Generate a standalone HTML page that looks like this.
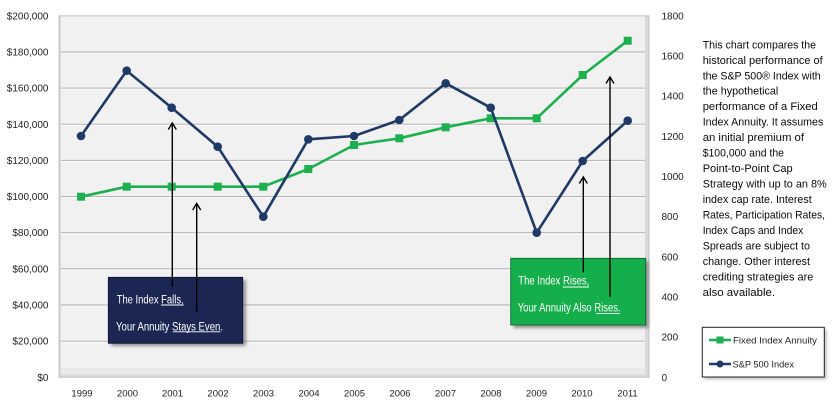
<!DOCTYPE html>
<html><head><meta charset="utf-8"><style>
html,body{margin:0;padding:0;background:#fff;}
svg{display:block;}
text{font-family:"Liberation Sans",Arial,sans-serif;}
</style></head><body>
<svg width="840" height="414" viewBox="0 0 840 414" xmlns="http://www.w3.org/2000/svg">
<defs>
<filter id="sh" x="-10%" y="-10%" width="130%" height="140%"><feGaussianBlur stdDeviation="1.5"/></filter>
</defs>
<rect x="0" y="0" width="840" height="414" fill="#fff"/>
<!-- plot area -->
<rect x="59" y="15.8" width="590" height="361.5" fill="#d9d9d9"/>
<rect x="61" y="16.5" width="584" height="358" fill="#f1f1f1"/>
<rect x="61" y="368" width="584" height="6.5" fill="#e9e9e9"/>
<rect x="59" y="15.8" width="590" height="361.5" fill="none" stroke="#c4c4c4" stroke-width="1"/>
<!-- gridlines -->
<g stroke="#ababab" stroke-width="1">
<line x1="61" x2="645" y1="52" y2="52"/>
<line x1="61" x2="645" y1="88.1" y2="88.1"/>
<line x1="61" x2="645" y1="124.3" y2="124.3"/>
<line x1="61" x2="645" y1="160.4" y2="160.4"/>
<line x1="61" x2="645" y1="196.6" y2="196.6"/>
<line x1="61" x2="645" y1="232.7" y2="232.7"/>
<line x1="61" x2="645" y1="268.9" y2="268.9"/>
<line x1="61" x2="645" y1="305" y2="305"/>
<line x1="61" x2="645" y1="341.2" y2="341.2"/>
</g>
<g stroke="#ffffff" stroke-width="1" opacity="0.9">
<line x1="61" x2="645" y1="53" y2="53"/>
<line x1="61" x2="645" y1="89.1" y2="89.1"/>
<line x1="61" x2="645" y1="125.3" y2="125.3"/>
<line x1="61" x2="645" y1="161.4" y2="161.4"/>
<line x1="61" x2="645" y1="197.6" y2="197.6"/>
<line x1="61" x2="645" y1="233.7" y2="233.7"/>
<line x1="61" x2="645" y1="269.9" y2="269.9"/>
<line x1="61" x2="645" y1="306" y2="306"/>
<line x1="61" x2="645" y1="342.2" y2="342.2"/>
</g>
<!-- left axis labels -->
<g font-size="10" fill="#222" text-anchor="end">
<text x="48.5" y="19.3">$200,000</text>
<text x="48.5" y="55.5">$180,000</text>
<text x="48.5" y="91.6">$160,000</text>
<text x="48.5" y="127.8">$140,000</text>
<text x="48.5" y="163.9">$120,000</text>
<text x="48.5" y="200.1">$100,000</text>
<text x="48.5" y="236.2">$80,000</text>
<text x="48.5" y="272.4">$60,000</text>
<text x="48.5" y="308.5">$40,000</text>
<text x="48.5" y="344.7">$20,000</text>
<text x="48.5" y="380.8">$0</text>
</g>
<!-- right axis labels -->
<g font-size="10" fill="#222">
<text x="661.5" y="19.3">1800</text>
<text x="661.5" y="59.5">1600</text>
<text x="661.5" y="99.6">1400</text>
<text x="661.5" y="139.8">1200</text>
<text x="661.5" y="180">1000</text>
<text x="661.5" y="220.1">800</text>
<text x="661.5" y="260.3">600</text>
<text x="661.5" y="300.5">400</text>
<text x="661.5" y="340.6">200</text>
<text x="661.5" y="380.8">0</text>
</g>
<!-- x labels -->
<g font-size="9.5" fill="#222" text-anchor="middle">
<text x="82" y="396.5">1999</text>
<text x="127.5" y="396.5">2000</text>
<text x="172.5" y="396.5">2001</text>
<text x="218" y="396.5">2002</text>
<text x="263.5" y="396.5">2003</text>
<text x="309" y="396.5">2004</text>
<text x="354.5" y="396.5">2005</text>
<text x="400" y="396.5">2006</text>
<text x="445.5" y="396.5">2007</text>
<text x="491" y="396.5">2008</text>
<text x="536.5" y="396.5">2009</text>
<text x="582" y="396.5">2010</text>
<text x="627.5" y="396.5">2011</text>
</g>
<!-- series: Fixed Index Annuity -->
<polyline fill="none" stroke="#1db04e" stroke-width="2.6" stroke-linejoin="round" points="81,196.7 126.7,186.7 171.7,186.7 217.7,186.7 263.3,186.7 308.3,169 354,145 399.3,138.3 445.7,127.3 490.7,118.3 536.7,118.3 582.7,75 627.7,40.7"/>
<g fill="#1db04e">
<rect x="77" y="192.7" width="8" height="8"/>
<rect x="122.7" y="182.7" width="8" height="8"/>
<rect x="167.7" y="182.7" width="8" height="8"/>
<rect x="213.7" y="182.7" width="8" height="8"/>
<rect x="259.3" y="182.7" width="8" height="8"/>
<rect x="304.3" y="165" width="8" height="8"/>
<rect x="350" y="141" width="8" height="8"/>
<rect x="395.3" y="134.3" width="8" height="8"/>
<rect x="441.7" y="123.3" width="8" height="8"/>
<rect x="486.7" y="114.3" width="8" height="8"/>
<rect x="532.7" y="114.3" width="8" height="8"/>
<rect x="578.7" y="71" width="8" height="8"/>
<rect x="623.7" y="36.7" width="8" height="8"/>
</g>
<!-- series: S&P 500 -->
<polyline fill="none" stroke="#1f3a66" stroke-width="2.6" stroke-linejoin="round" points="81,136 126.7,70.7 171.7,107.7 217.7,146.7 263.3,216.7 308.3,139.3 354,136 399.3,120 445.7,83.3 490.7,107.7 536.7,232.7 582.7,161 627.7,120.7"/>
<g fill="#1f3a66">
<circle cx="81" cy="136" r="4.3"/>
<circle cx="126.7" cy="70.7" r="4.3"/>
<circle cx="171.7" cy="107.7" r="4.3"/>
<circle cx="217.7" cy="146.7" r="4.3"/>
<circle cx="263.3" cy="216.7" r="4.3"/>
<circle cx="308.3" cy="139.3" r="4.3"/>
<circle cx="354" cy="136" r="4.3"/>
<circle cx="399.3" cy="120" r="4.3"/>
<circle cx="445.7" cy="83.3" r="4.3"/>
<circle cx="490.7" cy="107.7" r="4.3"/>
<circle cx="536.7" cy="232.7" r="4.3"/>
<circle cx="582.7" cy="161" r="4.3"/>
<circle cx="627.7" cy="120.7" r="4.3"/>
</g>
<!-- navy callout box -->
<rect x="111" y="280" width="135" height="66" fill="#555" opacity="0.6" filter="url(#sh)"/>
<rect x="108.3" y="277.3" width="134.4" height="66" fill="#1b2652" stroke="#0d1430" stroke-width="0.8"/>
<g font-size="11.5" fill="#ffffff">
<text x="116.7" y="303.3" textLength="67" lengthAdjust="spacingAndGlyphs">The Index Falls,</text>
<text x="116" y="330.3" textLength="107" lengthAdjust="spacingAndGlyphs">Your Annuity Stays Even.</text>
</g>
<g stroke="#fff" stroke-width="0.9">
<line x1="161" x2="183.5" y1="305" y2="305"/>
<line x1="172.7" x2="220.5" y1="331.8" y2="331.8"/>
</g>
<!-- green callout box -->
<rect x="513.5" y="261" width="135" height="67" fill="#555" opacity="0.6" filter="url(#sh)"/>
<rect x="510.7" y="258.3" width="135" height="66.7" fill="#14ae4a" stroke="#0b5e2a" stroke-width="0.8"/>
<g font-size="11.5" fill="#ffffff">
<text x="518.3" y="284.6" textLength="71" lengthAdjust="spacingAndGlyphs">The Index Rises,</text>
<text x="517.7" y="311.3" textLength="103" lengthAdjust="spacingAndGlyphs">Your Annuity Also Rises.</text>
</g>
<g stroke="#fff" stroke-width="0.9">
<line x1="562.7" x2="589" y1="287" y2="287"/>
<line x1="596" x2="620" y1="313.6" y2="313.6"/>
</g>
<!-- arrows -->
<g stroke="#000" stroke-width="1.4" fill="none">
<line x1="172.3" x2="172.3" y1="286.7" y2="123.5"/>
<path d="M168.3,129.5 L172.3,123 L176.3,129.5"/>
<line x1="196.7" x2="196.7" y1="311.7" y2="204"/>
<path d="M192.7,210 L196.7,203.5 L200.7,210"/>
<line x1="583.3" x2="583.3" y1="272.3" y2="177.5"/>
<path d="M579.3,183.5 L583.3,177 L587.3,183.5"/>
<line x1="610" x2="610" y1="296.7" y2="77.5"/>
<path d="M606,83.5 L610,77 L614,83.5"/>
</g>
<!-- description text -->
<g font-size="11.4" fill="#0a0a0a">
<text x="702.7" y="48.3" textLength="113.3" lengthAdjust="spacingAndGlyphs">This chart compares the</text>
<text x="702.7" y="63.8" textLength="120" lengthAdjust="spacingAndGlyphs">historical performance of</text>
<text x="702.7" y="79.3" textLength="118" lengthAdjust="spacingAndGlyphs">the S&amp;P 500® Index with</text>
<text x="702.7" y="94.7" textLength="75.6" lengthAdjust="spacingAndGlyphs">the hypothetical</text>
<text x="702.7" y="110.2" textLength="115" lengthAdjust="spacingAndGlyphs">performance of a Fixed</text>
<text x="702.7" y="125.7" textLength="120.6" lengthAdjust="spacingAndGlyphs">Index Annuity. It assumes</text>
<text x="702.7" y="141.2" textLength="101.3" lengthAdjust="spacingAndGlyphs">an initial premium of</text>
<text x="702.7" y="156.7" textLength="81.3" lengthAdjust="spacingAndGlyphs">$100,000 and the</text>
<text x="702.7" y="172.1" textLength="90" lengthAdjust="spacingAndGlyphs">Point-to-Point Cap</text>
<text x="702.7" y="187.6" textLength="124" lengthAdjust="spacingAndGlyphs">Strategy with up to an 8%</text>
<text x="702.7" y="203.1" textLength="109" lengthAdjust="spacingAndGlyphs">index cap rate. Interest</text>
<text x="702.7" y="218.6" textLength="122.3" lengthAdjust="spacingAndGlyphs">Rates, Participation Rates,</text>
<text x="702.7" y="234" textLength="100.6" lengthAdjust="spacingAndGlyphs">Index Caps and Index</text>
<text x="702.7" y="249.5" textLength="107.3" lengthAdjust="spacingAndGlyphs">Spreads are subject to</text>
<text x="702.7" y="265" textLength="107.3" lengthAdjust="spacingAndGlyphs">change. Other interest</text>
<text x="702.7" y="280.5" textLength="110.6" lengthAdjust="spacingAndGlyphs">crediting strategies are</text>
<text x="702.7" y="296" textLength="72.3" lengthAdjust="spacingAndGlyphs">also available.</text>
</g>
<!-- legend -->
<rect x="704.5" y="329.5" width="122" height="49.7" fill="#777" opacity="0.5" filter="url(#sh)"/>
<rect x="702.3" y="327.3" width="122" height="49.7" fill="#fff" stroke="#222" stroke-width="1"/>
<line x1="709" x2="731" y1="340" y2="340" stroke="#1db04e" stroke-width="2.4"/>
<rect x="716.5" y="336.5" width="7" height="7" fill="#1db04e"/>
<line x1="709" x2="731" y1="364" y2="364" stroke="#1f3a66" stroke-width="2.4"/>
<circle cx="720" cy="364" r="3.5" fill="#1f3a66"/>
<g font-size="9.5" fill="#222">
<text x="733" y="343.5" textLength="84" lengthAdjust="spacingAndGlyphs">Fixed Index Annuity</text>
<text x="732.5" y="367.5" textLength="61.5" lengthAdjust="spacingAndGlyphs">S&amp;P 500 Index</text>
</g>
</svg>
</body></html>
